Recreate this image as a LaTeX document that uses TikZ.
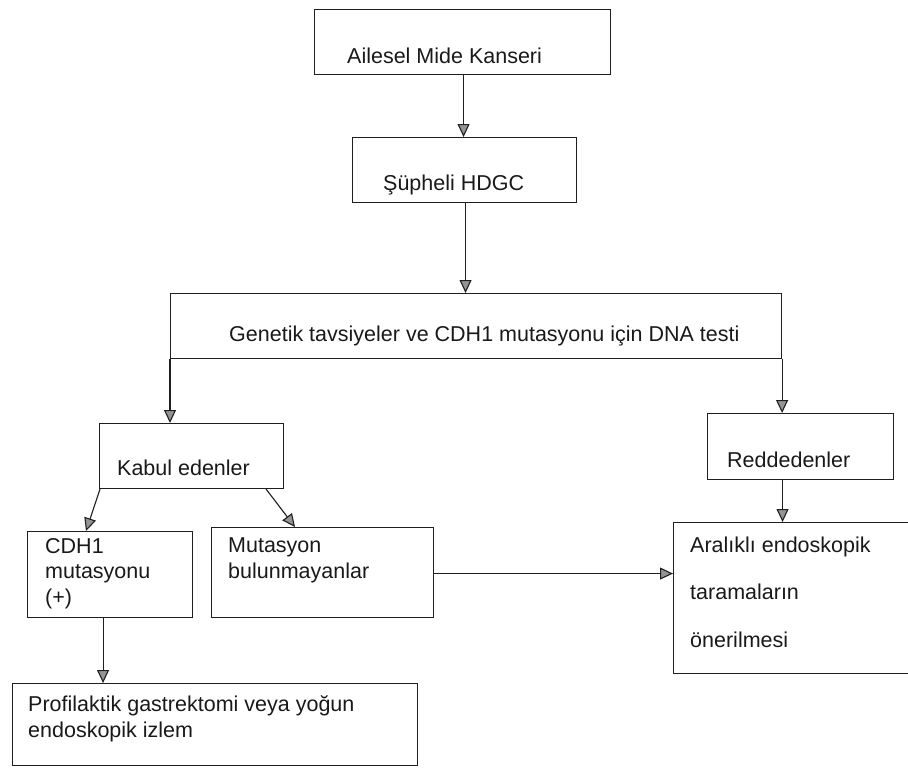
\documentclass[tikz,border=0pt]{standalone}
\usepackage{fontspec}
\setmainfont{Liberation Sans}
\usetikzlibrary{arrows.meta,calc}
\begin{document}
\begin{tikzpicture}[x=1pt,y=-1pt,
  box/.style={draw=black!88,line width=1.1pt,anchor=north west,inner sep=0pt},
  txt/.style={anchor=base west,inner sep=0pt,align=left,font=\fontsize{21.5}{25.5}\selectfont,text=black!90},
  arr/.style={draw=black!88,line width=1.1pt,-{Triangle[length=13pt,width=12pt,fill=black!42]}}
]
\useasboundingbox (0,0) rectangle (908,769);
% boxes
\node[box,minimum width=296pt,minimum height=65pt] (b1) at (314,9) {};
\node[box,minimum width=224pt,minimum height=65pt] (b2) at (352,137) {};
\node[box,minimum width=611pt,minimum height=65pt] (b3) at (170,293) {};
\node[box,minimum width=184pt,minimum height=65pt] (kab) at (99,423) {};
\node[box,minimum width=186pt,minimum height=66pt] (red) at (707,413) {};
\node[box,minimum width=165pt,minimum height=86pt] (cdh) at (27,531) {};
\node[box,minimum width=222pt,minimum height=90pt] (mut) at (211,527) {};
\node[box,minimum width=250pt,minimum height=151pt] (ara) at (673,522) {};
\node[box,minimum width=405pt,minimum height=82pt] (prof) at (12,683) {};
% texts (anchor = baseline of the last line)
\node[txt] (t1) at (347,63) {Ailesel Mide Kanseri};
\node[txt] (t2) at (383,190) {Şüpheli HDGC};
\node[txt] (t3) at (229,341) {Genetik tavsiyeler ve CDH1 mutasyonu için DNA testi};
\node[txt] (t4) at (117,475) {Kabul edenler};
\node[txt] (t5) at (727,467) {Reddedenler};
\node[txt] (t6) at (45,604) {CDH1\\mutasyonu\\(+)};
\node[txt] (t7) at (228,578) {Mutasyon\\bulunmayanlar};
\node[txt] (t8) at (690,647) {Aralıklı endoskopik\\[22pt]taramaların\\[22pt]önerilmesi};
\node[txt] (t9) at (28,737) {Profilaktik gastrektomi veya yoğun\\endoskopik izlem};
% connectors
\draw[arr] ([xshift=1pt]b1.south) -- ([xshift=1pt]b1.south |- b2.north);
\draw[arr] ([xshift=1pt]b2.south) -- ([xshift=1pt]b2.south |- b3.north);
\draw[arr] (b3.south west) -- (b3.south west |- kab.north);
\draw[arr] (b3.south east) -- (b3.south east |- red.north);
\draw[arr] ([xshift=1pt]kab.south west) -- ([xshift=59pt]cdh.north west);
\draw[arr] ([xshift=-18pt]kab.south east) -- ([xshift=84pt]mut.north west);
\draw[arr] ([yshift=-1pt]mut.east) -- ([yshift=-1pt]mut.east -| ara.west);
\draw[arr] ([xshift=-18pt]red.south) -- ([xshift=-18pt]red.south |- ara.north);
\draw[arr] ([xshift=-7pt]cdh.south) -- ([xshift=-7pt]cdh.south |- prof.north);
\end{tikzpicture}
\end{document}
